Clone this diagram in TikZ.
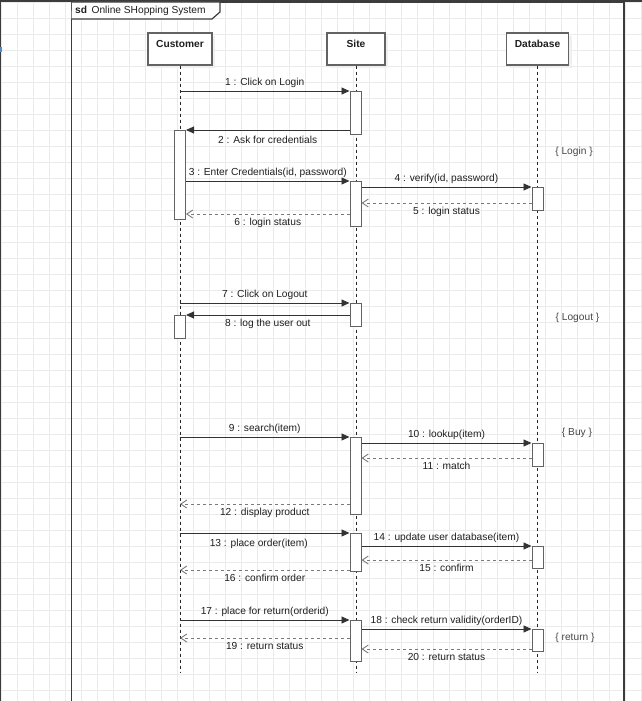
\documentclass[tikz,border=0pt]{standalone}
\usepackage{fontspec}
\setmainfont{Liberation Sans}
\usetikzlibrary{arrows.meta, calc, positioning, shadows}
\definecolor{gridc}{HTML}{EBEBEB}
\definecolor{linec}{HTML}{333333}
\definecolor{boxc}{HTML}{636363}
\definecolor{retc}{HTML}{7A7A7A}
\definecolor{edgec}{HTML}{3C3C3C}
\definecolor{markc}{HTML}{4F8FD0}

\begin{document}
\begin{tikzpicture}
[
	x=1pt, y=-1pt,
	every node/.style={font=\fontsize{10.2}{12}\selectfont, text=black!88},
	head/.style={rectangle,draw=boxc,line width=1.2,fill=white,minimum height=32pt,inner sep=0pt,font=\fontsize{10.2}{12}\selectfont\bfseries,text height=7.5pt,text depth=10.5pt,drop shadow={shadow xshift=3pt,shadow yshift=-3pt,fill=black!6,opacity=1}},
	act/.style={rectangle,draw=boxc,line width=1,fill=white,minimum width=11pt,inner sep=0pt,anchor=north},
	life/.style={line width=0.9,black!85,dash pattern=on 3pt off 3pt},
	msg/.style={line width=0.9,linec,-{Triangle[length=8pt,width=7pt]}},
	ret/.style={line width=0.9,retc,dash pattern=on 3pt off 3pt,-{Straight Barb[length=6pt,width=8pt]}},
	lbl/.style={inner sep=3.5pt,text height=7.5pt,text depth=2pt},
	cond/.style={text=black!72},
	frame/.style={line width=1.2,edgec}
]

\useasboundingbox (0,0) rectangle (642,701);
\fill[white] (0,0) rectangle (642,701);
\foreach \gx in {1,17,...,641}
	\draw[gridc,line width=0.9] (\gx,0) -- (\gx,701);
\foreach \gy in {2,18,...,700}
	\draw[gridc,line width=0.9] (0,\gy) -- (642,\gy);

\fill[edgec] (0,0) rectangle (642,2);
\fill[edgec] (0,0) rectangle (1,701);
\fill[markc] (0,47) rectangle (1.5,52);

\draw[frame] (71.5,701) -- (71.5,2) -- (624,2) -- (624,701);
\draw[frame,fill=white] (72,2) -- (220,2) -- (220,12) -- (212,19) -- (71.5,19);
\node[anchor=west,inner sep=0pt] (sd) at (75,11) {\textbf{sd}\, Online SHopping System};

\node[head,minimum width=64pt] (cus) at (180,49) {Customer};
\node[head,minimum width=58pt] (site) at (356,49) {Site};
\node[head,minimum width=62pt] (db) at (537.5,49) {Database};

\coordinate (end) at (0,673);
\draw[life] (cus.south) -- (cus.south |- end);
\draw[life] (site.south) -- (site.south |- end);
\draw[life] (db.south) -- (db.south |- end);

\node[act,minimum height=43pt] (s1) at (355.5,91) {};
\node[act,minimum height=89pt] (c1) at (180,130) {};
\node[act,minimum height=45pt] (s2) at (355.5,181) {};
\node[act,minimum height=23pt] (d1) at (537.5,187) {};
\node[act,minimum height=23pt] (s3) at (355.5,303) {};
\node[act,minimum height=23pt] (c2) at (180,315) {};
\node[act,minimum height=77pt] (s4) at (355.5,437) {};
\node[act,minimum height=23pt] (d2) at (537.5,443) {};
\node[act,minimum height=38pt] (s5) at (355.5,533) {};
\node[act,minimum height=22pt] (d3) at (537.5,546) {};
\node[act,minimum height=41pt] (s6) at (355.5,620) {};
\node[act,minimum height=22pt] (d4) at (537.5,629) {};

\coordinate (r5) at ($(d1.south west)+(0,-8)$);
\coordinate (r6) at ($(c1.south east)+(0,-6)$);
\coordinate (r11) at ($(d2.south west)+(0,-9)$);
\coordinate (r12) at ($(s4.south west)+(0,-11)$);
\coordinate (r15) at ($(d3.south west)+(0,-9)$);
\coordinate (r16) at ($(s5.south west)+(0,-2)$);
\coordinate (r19) at ($(s6.north west)+(0,18)$);
\coordinate (r20) at ($(d4.south west)+(0,-3)$);

\draw[msg]	(cus |- s1.north)	--	node[lbl,above] (t1) {1 : Click on Login}	(s1.north west);
\draw[msg]	(s1.west |- c1.north)	--	node[lbl,below,yshift=-2pt] (t2) {2 : Ask for credentials}	(c1.north east);
\draw[msg]	(c1.east |- s2.north)	--	node[lbl,above] (t3) {3 : Enter Credentials(id, password)}	(s2.north west);
\draw[msg]	(s2.east |- d1.north)	--	node[lbl,above] (t4) {4 : verify(id, password)}	(d1.north west);
\draw[ret]	(r5)	--	node[lbl,below] (t5) {5 : login status}	(s2.east |- r5);
\draw[ret]	(s2.west |- r6)	--	node[lbl,below] (t6) {6 : login status}	(r6);

\draw[msg]	(cus |- s3.north)	--	node[lbl,above] (t7) {7 : Click on Logout}	(s3.north west);
\draw[msg]	(s3.west |- c2.north)	--	node[lbl,below] (t8) {8 : log the user out}	(c2.north east);

\draw[msg]	(cus |- s4.north)	--	node[lbl,above] (t9) {9 : search(item)}	(s4.north west);
\draw[msg]	(s4.east |- d2.north)	--	node[lbl,above] (t10) {10 : lookup(item)}	(d2.north west);
\draw[ret]	(r11)	--	node[lbl,below] (t11) {11 : match}	(s4.east |- r11);
\draw[ret]	(r12)	--	node[lbl,below] (t12) {12 : display product}	(cus |- r12);

\draw[msg]	(cus |- s5.north)	--	node[lbl,below,xshift=-6pt,yshift=-2pt] (t13) {13 : place order(item)}	(s5.north west);
\draw[msg]	(s5.east |- d3.north)	--	node[lbl,above] (t14) {14 : update user database(item)}	(d3.north west);
\draw[ret]	(r15)	--	node[lbl,below] (t15) {15 : confirm}	(s5.east |- r15);
\draw[ret]	(r16)	--	node[lbl,below] (t16) {16 : confirm order}	(cus |- r16);

\draw[msg]	(cus |- s6.north)	--	node[lbl,above] (t17) {17 : place for return(orderid)}	(s6.north west);
\draw[msg]	(s6.east |- d4.north)	--	node[lbl,above] (t18) {18 : check return validity(orderID)}	(d4.north west);
\draw[ret]	(r19)	--	node[lbl,below] (t19) {19 : return status}	(cus |- r19);
\draw[ret]	(r20)	--	node[lbl,below] (t20) {20 : return status}	(s6.east |- r20);

\node[cond] (g1) at (574,152) {\{ Login \}};
\node[cond] (g2) at (577.5,318) {\{ Logout \}};
\node[cond] (g3) at (577,433) {\{ Buy \}};
\node[cond] (g4) at (575,638) {\{ return \}};

\end{tikzpicture}
\end{document}
